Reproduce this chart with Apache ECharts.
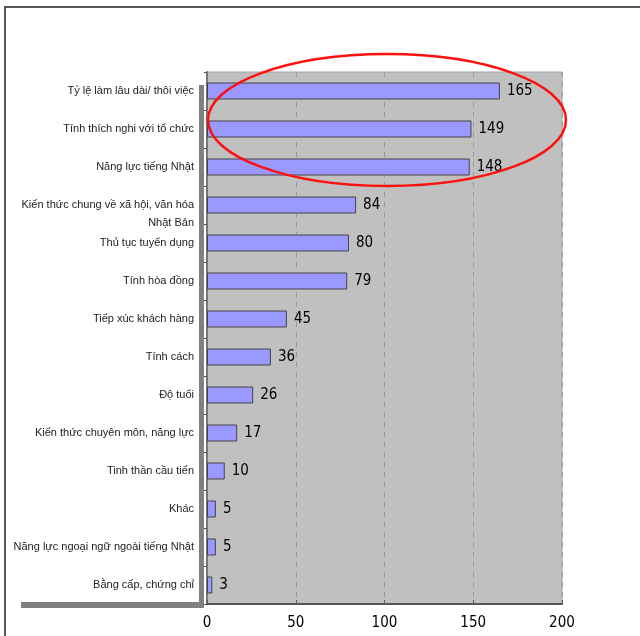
<!DOCTYPE html>
<html><head><meta charset="utf-8">
<script src="https://cdn.jsdelivr.net/npm/echarts@6/dist/echarts.min.js"></script>
<style>html,body{margin:0;padding:0;background:#fff}#c{width:640px;height:636px}</style>
</head><body><div id="c"></div>
<script>
const categories = [
  "Tỷ lệ làm lâu dài/ thôi việc",
  "Tính thích nghi với tổ chức",
  "Năng lực tiếng Nhật",
  "Kiến thức chung về xã hội, văn hóa Nhật Bản",
  "Thủ tục tuyển dụng",
  "Tính hòa đồng",
  "Tiếp xúc khách hàng",
  "Tính cách",
  "Độ tuổi",
  "Kiến thức chuyên môn, năng lực",
  "Tinh thần cầu tiến",
  "Khác",
  "Năng lực ngoại ngữ ngoài tiếng Nhật",
  "Bằng cấp, chứng chỉ"
];
const values = [165, 149, 148, 84, 80, 79, 45, 36, 26, 17, 10, 5, 5, 3];
const xTicks = [0, 50, 100, 150, 200];

const chart = echarts.init(document.getElementById('c'), null, {renderer: 'canvas'});
const numFont = '"DejaVu Sans Condensed", "Liberation Sans Narrow", "DejaVu Sans", sans-serif';
chart.setOption({
  animation: false,
  backgroundColor: '#fff',
  grid: {left: 207, right: 78, top: 72, bottom: 32, show: true,
         backgroundColor: '#c0c0c0', borderColor: '#a0a0a0', borderWidth: 1},
  xAxis: {
    type: 'value', min: xTicks[0], max: xTicks[xTicks.length - 1], interval: 50,
    axisLine: {show: true, onZero: false, lineStyle: {color: '#555', width: 2}},
    axisTick: {show: true, inside: true, length: 4, lineStyle: {color: '#555'}},
    splitLine: {show: true, lineStyle: {color: '#999', type: [5, 5], width: 1}},
    axisLabel: {color: '#000', fontSize: 15, fontFamily: numFont, margin: 12}
  },
  yAxis: {
    type: 'category', data: categories, inverse: true,
    axisLine: {show: true, lineStyle: {color: '#777', width: 2}},
    axisTick: {show: true, length: 3, lineStyle: {color: '#555'}},
    axisLabel: {
      color: '#222', fontSize: 11, fontFamily: '"Liberation Sans", Arial, sans-serif',
      margin: 13, lineHeight: 18,
      formatter: function (v) {
        if (v.indexOf('văn hóa Nhật Bản') >= 0) {
          return '\n' + v.replace(' Nhật Bản', '\nNhật Bản');
        }
        return v;
      }
    }
  },
  series: [{
    type: 'bar', data: values, barWidth: 17, z: 3,
    itemStyle: {color: '#9999ff', borderColor: '#444', borderWidth: 1},
    label: {show: true, position: 'right', distance: 7, color: '#000',
            fontSize: 15, fontFamily: numFont}
  }],
  graphic: [
    {type: 'rect', z: -10, silent: true, shape: {x: 5, y: 7, width: 700, height: 700},
     style: {fill: 'none', stroke: '#555', lineWidth: 2}},
    {type: 'rect', z: -5, silent: true, shape: {x: 199, y: 85, width: 5, height: 523},
     style: {fill: '#808080'}},
    {type: 'rect', z: -5, silent: true, shape: {x: 21, y: 602, width: 183, height: 6},
     style: {fill: '#808080'}},
    {type: 'ellipse', z: 100, silent: true, shape: {cx: 387, cy: 120, rx: 179, ry: 66},
     style: {fill: 'none', stroke: '#ff1010', lineWidth: 2.5}}
  ]
});
</script></body></html>
